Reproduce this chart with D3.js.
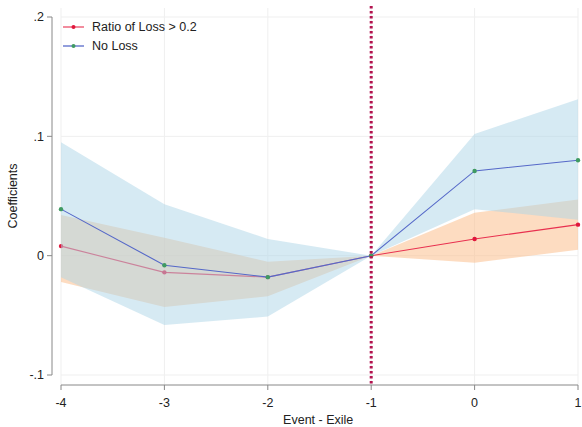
<!DOCTYPE html>
<html>
<head>
<meta charset="utf-8">
<script src="https://cdn.jsdelivr.net/npm/d3@7"></script>
<style>
  body { margin: 0; background: #fff; }
  svg { display: block; font-family: "Liberation Sans", Arial, sans-serif; }
  .tick-label { font-size: 12.5px; fill: #222; }
  .axis-title { font-size: 12.5px; fill: #222; }
  .legend-text { font-size: 12.5px; fill: #222; }
</style>
</head>
<body>
<svg id="chart"></svg>
<script>
// ── Data ──
const periods = [-4, -3, -2, -1, 0, 1];

// Ratio of Loss > 0.2
const lossCoef  = [0.008, -0.014, -0.018, 0, 0.014, 0.026];
const lossUpper = [0.034,  0.015, -0.005, 0, 0.036, 0.047];
const lossLower = [-0.022, -0.043, -0.034, 0, -0.006, 0.005];

// No Loss
const noLossCoef  = [0.039, -0.008, -0.018, 0, 0.071, 0.080];
const noLossUpper = [0.095,  0.043,  0.014, 0, 0.102, 0.131];
const noLossLower = [-0.018, -0.058, -0.051, 0, 0.039, 0.030];

const yTicks = [-0.1, 0, 0.1, 0.2];
const yTickLabels = ["-.1", "0", ".1", ".2"];
const xTicks = [-4, -3, -2, -1, 0, 1];
const eventLine = -1;

const seriesNames = ["Ratio of Loss > 0.2", "No Loss"];

// ── Dimensions ──
const width = 582, height = 427;
const svg = d3.select("#chart").attr("width", width).attr("height", height);

const x = d3.scaleLinear().domain([-4, 1]).range([61, 578]);
const y = d3.scaleLinear().domain([-0.1, 0.2]).range([375, 17]);

// ── Grid ──
svg.append("g").selectAll("line")
  .data(yTicks)
  .join("line")
  .attr("x1", x(-4)).attr("x2", x(1))
  .attr("y1", d => y(d)).attr("y2", d => y(d))
  .attr("stroke", "#efefef").attr("stroke-width", 1);

svg.append("g").selectAll("line")
  .data(xTicks)
  .join("line")
  .attr("x1", d => x(d)).attr("x2", d => x(d))
  .attr("y1", 8).attr("y2", 385)
  .attr("stroke", "#efefef").attr("stroke-width", 1);

// ── Helpers ──
const area = (lo, hi) => d3.area()
  .x((d, i) => x(periods[i]))
  .y0((d, i) => y(lo[i]))
  .y1((d, i) => y(hi[i]))(periods);

const line = vals => d3.line()
  .x((d, i) => x(periods[i]))
  .y((d, i) => y(vals[i]))(periods);

function drawSeries(coef, lo, hi, band, bandOpacity, stroke, dot) {
  svg.append("path")
    .attr("d", area(lo, hi))
    .attr("fill", band).attr("fill-opacity", bandOpacity);

  svg.append("path")
    .attr("d", line(coef))
    .attr("fill", "none").attr("stroke", stroke).attr("stroke-width", 1.1);

  svg.append("g").selectAll("circle")
    .data(coef)
    .join("circle")
    .attr("cx", (d, i) => x(periods[i])).attr("cy", d => y(d))
    .attr("r", 2.2).attr("fill", dot);
}

// drawn in layers: the blue band sits over the red line, like the original
drawSeries(lossCoef, lossLower, lossUpper, "#fbc08e", 0.55, "#e8304f", "#e0173c");
drawSeries(noLossCoef, noLossLower, noLossUpper, "#aed6e8", 0.5, "#5568c8", "#3f9a62");

// ── Event line ──
svg.append("line")
  .attr("x1", x(eventLine)).attr("x2", x(eventLine))
  .attr("y1", 6).attr("y2", 385)
  .attr("stroke", "#b3134f").attr("stroke-width", 3)
  .attr("stroke-dasharray", "2.5,2.5");

// ── Axes ──
svg.append("line")
  .attr("x1", 52).attr("x2", 52)
  .attr("y1", y(0.2)).attr("y2", y(-0.1))
  .attr("stroke", "#888");

svg.append("g").selectAll("line")
  .data(yTicks)
  .join("line")
  .attr("x1", 47).attr("x2", 52)
  .attr("y1", d => y(d)).attr("y2", d => y(d))
  .attr("stroke", "#888");

svg.append("g").selectAll("text")
  .data(yTicks)
  .join("text")
  .attr("class", "tick-label")
  .attr("x", 44).attr("y", d => y(d))
  .attr("dy", "0.35em")
  .attr("text-anchor", "end")
  .text((d, i) => yTickLabels[i]);

svg.append("line")
  .attr("x1", x(-4)).attr("x2", x(1))
  .attr("y1", 385).attr("y2", 385)
  .attr("stroke", "#888");

svg.append("g").selectAll("line")
  .data(xTicks)
  .join("line")
  .attr("x1", d => x(d)).attr("x2", d => x(d))
  .attr("y1", 385).attr("y2", 390)
  .attr("stroke", "#888");

svg.append("g").selectAll("text")
  .data(xTicks)
  .join("text")
  .attr("class", "tick-label")
  .attr("x", d => x(d)).attr("y", 407)
  .attr("text-anchor", "middle")
  .text(d => d);

svg.append("text")
  .attr("class", "axis-title")
  .attr("x", x(-1) - 53).attr("y", 424)
  .attr("text-anchor", "middle")
  .text("Event - Exile");

svg.append("text")
  .attr("class", "axis-title")
  .attr("transform", `translate(17,${y(0.05)}) rotate(-90)`)
  .attr("text-anchor", "middle")
  .text("Coefficients");

// ── Legend ──
const legendColors = [["#e8304f", "#e0173c"], ["#3a4fc0", "#3f9a62"]];
const legend = svg.append("g")
  .selectAll("g")
  .data(seriesNames)
  .join("g")
  .attr("transform", (d, i) => `translate(63,${27 + i * 19})`);

legend.append("line")
  .attr("x1", 0).attr("x2", 21)
  .attr("stroke", (d, i) => legendColors[i][0]).attr("stroke-width", 1.1);
legend.append("circle")
  .attr("cx", 10.5).attr("r", 2)
  .attr("fill", (d, i) => legendColors[i][1]);
legend.append("text")
  .attr("class", "legend-text")
  .attr("x", 29).attr("dy", "0.35em")
  .text(d => d);
</script>
</body>
</html>
